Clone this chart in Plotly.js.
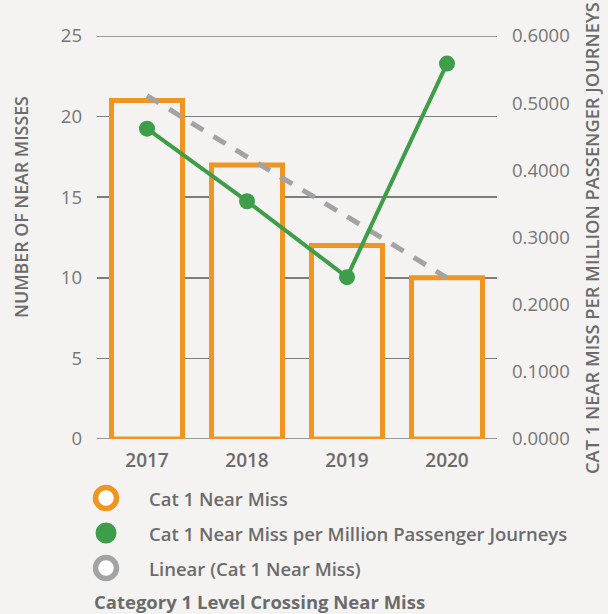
<!DOCTYPE html>
<html>
<head>
<meta charset="utf-8">
<script src="https://cdn.plot.ly/plotly-3.0.1.min.js"></script>
<style>
html,body{margin:0;padding:0;background:#f4f3f1;}
#chart{width:608px;height:614px;}
</style>
</head>
<body>
<div id="chart"></div>
<script>
// ---- data ----
var years = ['2017', '2018', '2019', '2020'];
var nearMiss = [21, 17, 12, 10];
var perMillion = [0.4620, 0.3540, 0.2410, 0.5590];
var trendNearMiss = [21.3, 17.5, 13.8, 10.0];
var seriesNames = ['Cat 1 Near Miss', 'Cat 1 Near Miss per Million Passenger Journeys', 'Linear (Cat 1 Near Miss)'];
var chartTitle = 'Category 1 Level Crossing Near Miss';
var leftTitle = 'NUMBER OF NEAR MISSES';
var rightTitle = 'CAT 1 NEAR MISS PER MILLION PASSENGER JOURNEYS';
var leftTicks = [0, 5, 10, 15, 20, 25];
var rightTicks = [0, 0.1, 0.2, 0.3, 0.4, 0.5, 0.6];

var BG = '#f4f3f1';
var ORANGE = '#f0951f';
var GREEN = '#3e9d48';
var GREY = '#a3a3a3';
var TXT = '#6b6b6b';
var GRID = '#7d7d7d';
var FONT = '"Open Sans", "Noto Sans", sans-serif';

var traces = [
  {
    type: 'bar', x: years, y: nearMiss, name: seriesNames[0],
    marker: {color: BG, line: {color: ORANGE, width: 5}},
    showlegend: false, hoverinfo: 'x+y'
  },
  {
    type: 'scatter', mode: 'lines', x: years, y: trendNearMiss, name: seriesNames[2],
    line: {color: GREY, width: 5, dash: '14px,12px'},
    showlegend: false
  },
  {
    type: 'scatter', mode: 'lines+markers', x: years, y: perMillion, yaxis: 'y2', name: seriesNames[1],
    line: {color: GREEN, width: 4},
    marker: {color: GREEN, size: 16},
    showlegend: false
  }
];

// plot area in pixels
var L = 97, R = 497, T = 36, B = 439;
function px(x){ return (x - L) / (R - L); }
function py(y){ return (B - y) / (B - T); }

var legendRows = [
  {y: 498, name: seriesNames[0], fill: '#ffffff', line: ORANGE, ring: true},
  {y: 533, name: seriesNames[1], fill: GREEN, line: GREEN, ring: false},
  {y: 568, name: seriesNames[2], fill: '#ffffff', line: GREY, ring: true}
];

var shapes = [];
var annotations = [];

// boundary gridlines (Plotly drops gridlines lying on the plot edge)
[leftTicks[0], leftTicks[leftTicks.length - 1]].forEach(function(v){
  shapes.push({
    type: 'line', xref: 'paper', yref: 'y', x0: 0, x1: 1, y0: v, y1: v,
    line: {color: GRID, width: 1.5}, layer: 'below'
  });
});

legendRows.forEach(function(r){
  var rad = 10.5;
  shapes.push({
    type: 'circle', xref: 'paper', yref: 'paper',
    xsizemode: 'pixel', ysizemode: 'pixel',
    xanchor: px(106), yanchor: py(r.y),
    x0: -rad, x1: rad, y0: -rad, y1: rad,
    fillcolor: r.fill, line: {color: r.line, width: r.ring ? 5.5 : 0}
  });
  annotations.push({
    xref: 'paper', yref: 'paper', x: px(147), y: py(r.y),
    xanchor: 'left', yanchor: 'middle', showarrow: false,
    text: r.name, font: {family: FONT, size: 18.5, color: TXT, weight: 600}
  });
});
annotations.push({
  xref: 'paper', yref: 'paper', x: px(92), y: py(601),
  xanchor: 'left', yanchor: 'middle', showarrow: false,
  text: chartTitle, font: {family: FONT, size: 18.5, color: TXT, weight: 700}
});
annotations.push({
  xref: 'paper', yref: 'paper', x: px(21), y: py(207),
  xanchor: 'center', yanchor: 'middle', showarrow: false, textangle: -90,
  text: leftTitle, font: {family: FONT, size: 17.8, color: TXT, weight: 600}
});
annotations.push({
  xref: 'paper', yref: 'paper', x: px(591), y: py(238),
  xanchor: 'center', yanchor: 'middle', showarrow: false, textangle: -90,
  text: rightTitle, font: {family: FONT, size: 18.3, color: TXT, weight: 600}
});

var layout = {
  width: 608, height: 614,
  paper_bgcolor: BG, plot_bgcolor: BG,
  margin: {l: L, r: 608 - R, t: T, b: 614 - B, pad: 0},
  showlegend: false,
  bargap: 0.29,
  font: {family: FONT, color: TXT},
  xaxis: {
    type: 'category', showgrid: false, zeroline: false, showline: false,
    ticks: '', tickfont: {family: FONT, size: 19, color: TXT, weight: 600},
    ticklabelstandoff: 8, fixedrange: true
  },
  yaxis: {
    range: [0, 25], tickvals: leftTicks, showgrid: true, gridcolor: GRID, gridwidth: 1.5,
    zeroline: false, showline: false, ticks: '',
    tickfont: {family: FONT, size: 18.5, color: '#767676'}, ticklabelstandoff: 14,
    fixedrange: true
  },
  yaxis2: {
    overlaying: 'y', side: 'right', range: [0, 0.6], tickvals: rightTicks, tickformat: '.4f',
    showgrid: false, zeroline: false, showline: false, ticks: '',
    tickfont: {family: FONT, size: 18.5, color: '#767676'}, ticklabelstandoff: 14,
    fixedrange: true
  },
  shapes: shapes,
  annotations: annotations
};

Plotly.newPlot('chart', traces, layout, {displayModeBar: false, staticPlot: true});
</script>
</body>
</html>
